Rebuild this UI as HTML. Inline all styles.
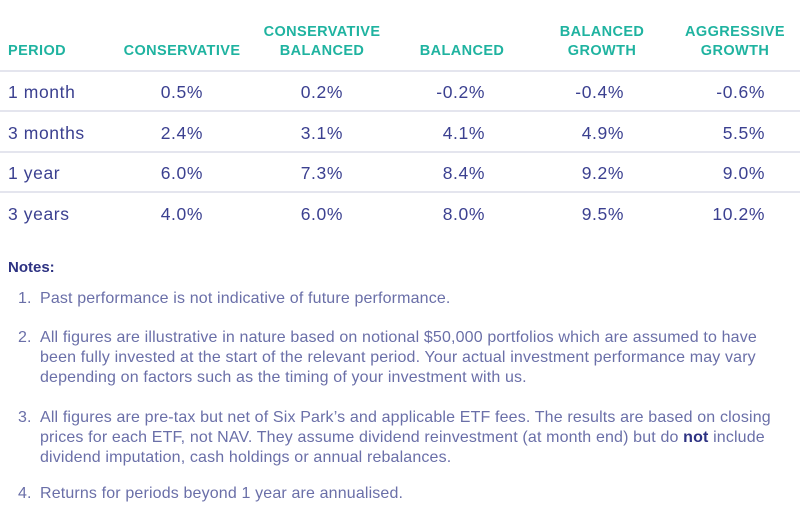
<!DOCTYPE html><html><head><style>
body{margin:0;width:800px;height:526px;background:#fff;font-family:"Liberation Sans",sans-serif;position:relative;overflow:hidden}
.a{position:absolute;white-space:nowrap}
.h{color:#1fb3a0;font-weight:bold;font-size:14.5px;text-align:center;line-height:19px;letter-spacing:0.4px}
.d{color:#3b4090;font-size:17.5px;line-height:20px;letter-spacing:0.6px}
.r{text-align:right}
.ln{position:absolute;left:0;width:800px;height:2px;background:#e4e5ee}
.n{color:#6a6fa8;font-size:16px;line-height:20px;letter-spacing:0.15px}
</style></head><body>
<div class="a h" style="left:8px;top:42px;text-align:left">PERIOD</div>
<div class="a h" style="left:112px;width:140px;top:42px">CONSERVATIVE</div>
<div class="a h" style="left:252px;width:140px;top:23px">CONSERVATIVE<br>BALANCED</div>
<div class="a h" style="left:392px;width:140px;top:42px">BALANCED</div>
<div class="a h" style="left:532px;width:140px;top:23px">BALANCED<br>GROWTH</div>
<div class="a h" style="left:665px;width:140px;top:23px">AGGRESSIVE<br>GROWTH</div>
<div class="ln" style="top:70px"></div>
<div class="ln" style="top:110px"></div>
<div class="ln" style="top:151px"></div>
<div class="ln" style="top:191px"></div>
<div id="rows"></div>
<script>
var rows=[["1 month","0.5%","0.2%","-0.2%","-0.4%","-0.6%"],["3 months","2.4%","3.1%","4.1%","4.9%","5.5%"],["1 year","6.0%","7.3%","8.4%","9.2%","9.0%"],["3 years","4.0%","6.0%","8.0%","9.5%","10.2%"]];
var R=[203,343,485,624,765],h="";
rows.forEach(function(r,i){var t=82+i*40.5;
h+='<div class="a d" style="left:8px;top:'+t+'px">'+r[0]+'</div>';
for(var j=1;j<6;j++)h+='<div class="a d r" style="right:'+(800-R[j-1])+'px;top:'+t+'px">'+r[j]+'</div>';});
document.getElementById('rows').innerHTML=h;
</script>
<div class="a" style="left:8px;top:259px;color:#2d3282;font-weight:bold;font-size:15px">Notes:</div>
<div class="a n" style="left:18px;top:289px">1.</div>
<div class="a n" style="left:40px;top:289px">Past performance is not indicative of future performance.</div>
<div class="a n" style="left:18px;top:328px">2.</div>
<div class="a n" style="left:40px;top:328px">All figures are illustrative in nature based on notional $50,000 portfolios which are assumed to have<br>been fully invested at the start of the relevant period. Your actual investment performance may vary<br>depending on factors such as the timing of your investment with us.</div>
<div class="a n" style="left:18px;top:408px">3.</div>
<div class="a n" style="left:40px;top:408px">All figures are pre-tax but net of Six Park’s and applicable ETF fees. The results are based on closing<br>prices for each ETF, not NAV. They assume dividend reinvestment (at month end) but do <b style="color:#2d3282">not</b> include<br>dividend imputation, cash holdings or annual rebalances.</div>
<div class="a n" style="left:18px;top:484px">4.</div>
<div class="a n" style="left:40px;top:484px">Returns for periods beyond 1 year are annualised.</div>
</body></html>
